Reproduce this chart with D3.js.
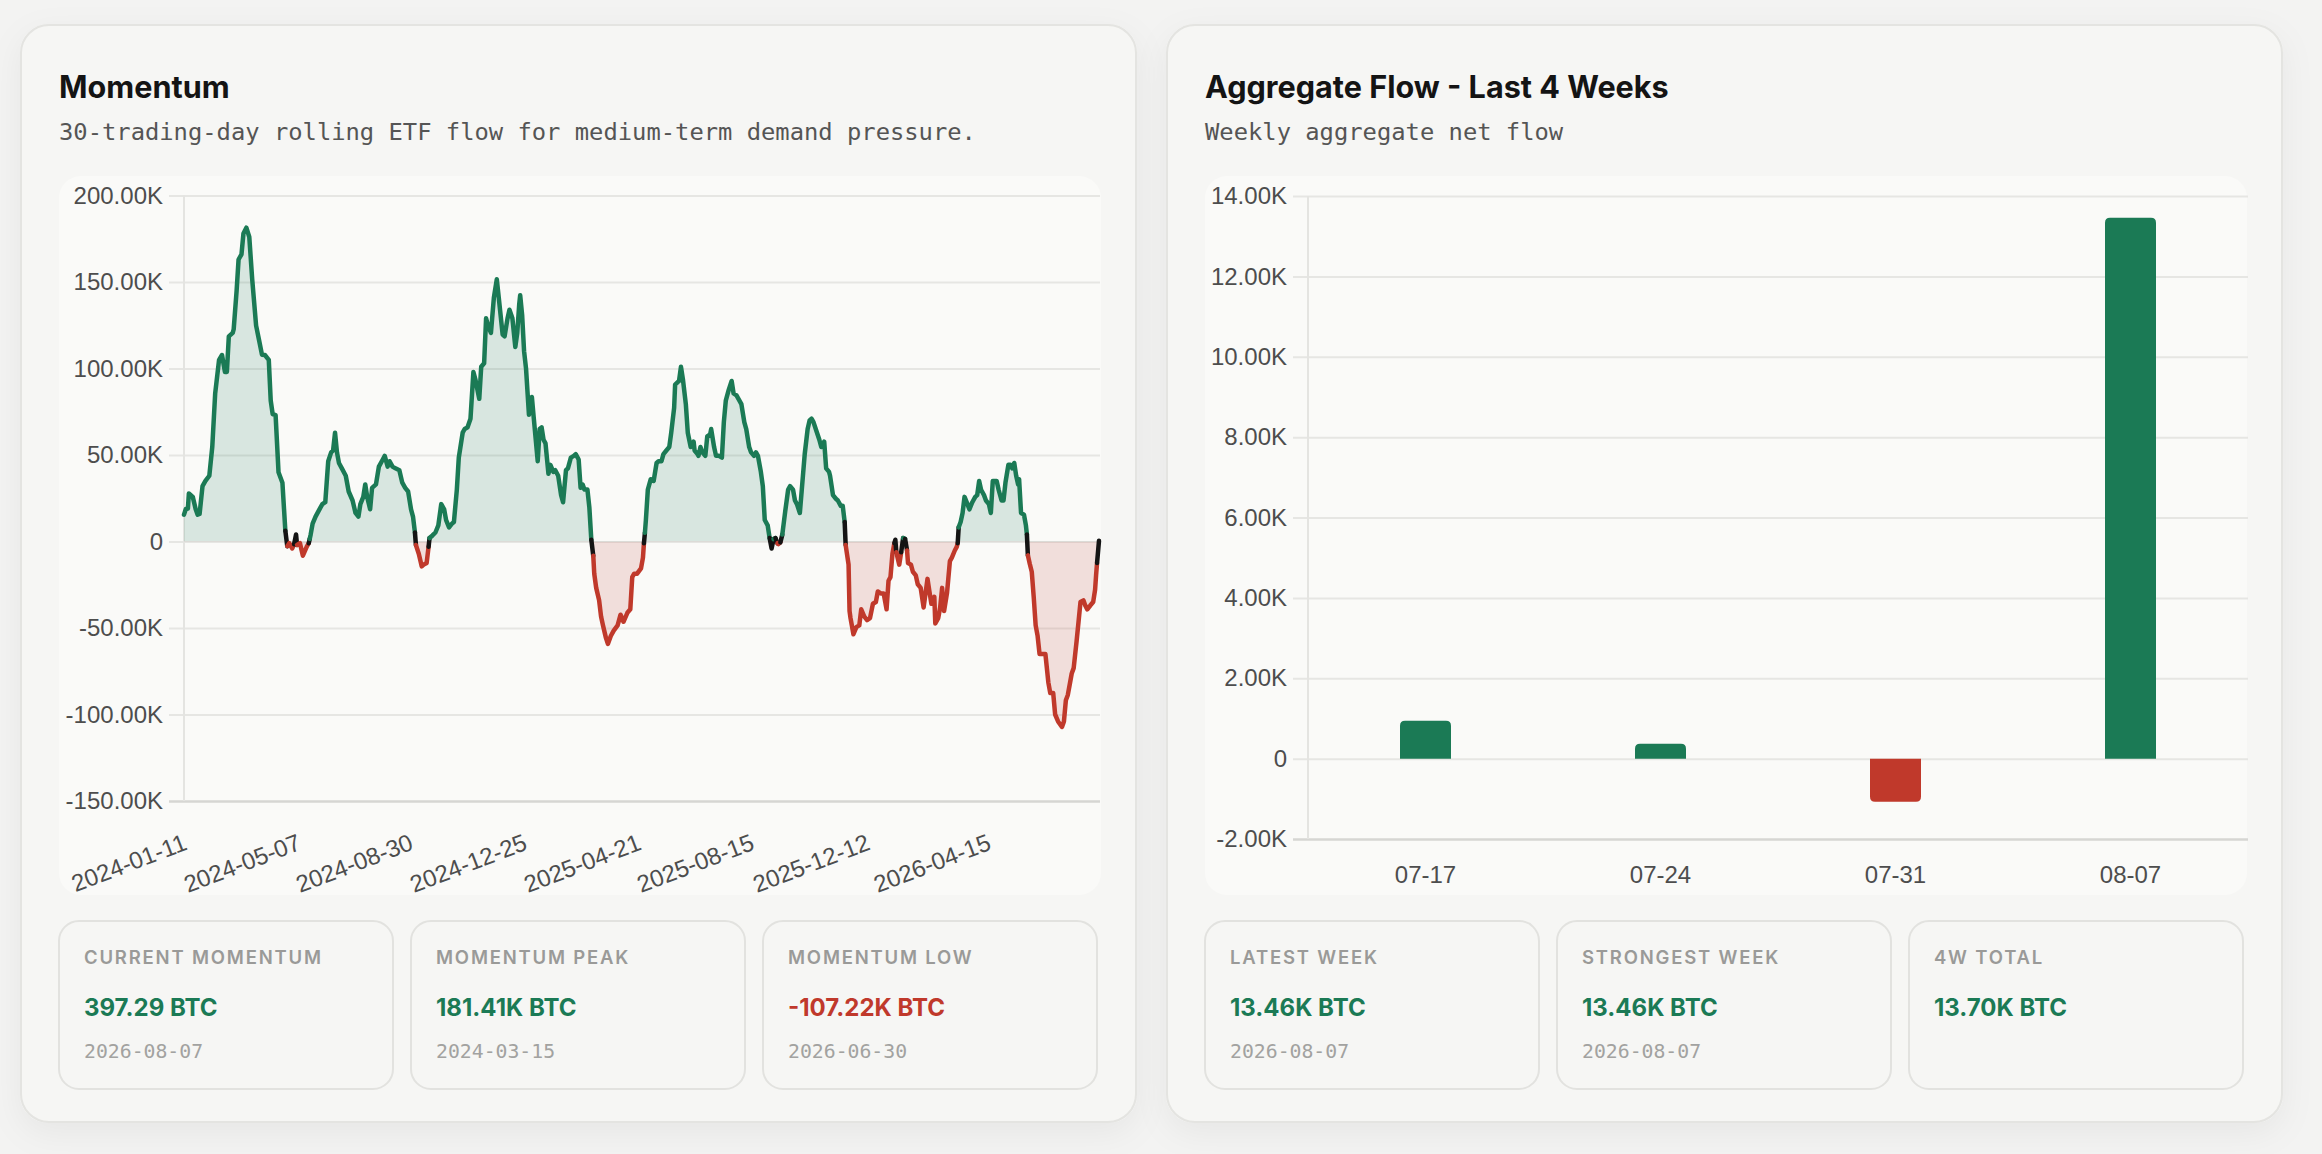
<!DOCTYPE html>
<html>
<head>
<meta charset="utf-8">
<title>ETF Flow Momentum</title>
<script src="https://cdn.jsdelivr.net/npm/d3@7"></script>
<style>
  html, body { margin: 0; padding: 0; background: #f3f3f2; }
  svg { display: block; }
</style>
</head>
<body>
<div id="main"></div>
<script>
// rolling 30 trading day flow, thousand BTC
const momentumDates = [
  "2024-01-11","2024-01-13","2024-01-15","2024-01-16","2024-01-20","2024-01-23","2024-01-25","2024-01-27","2024-01-30","2024-02-02",
  "2024-02-06","2024-02-09","2024-02-12","2024-02-16","2024-02-19","2024-02-22","2024-02-24","2024-02-26","2024-03-01","2024-03-02",
  "2024-03-05","2024-03-07","2024-03-10","2024-03-12","2024-03-15","2024-03-18","2024-03-21","2024-03-25","2024-03-28","2024-03-31",
  "2024-04-03","2024-04-07","2024-04-09","2024-04-11","2024-04-14","2024-04-17","2024-04-21","2024-04-24","2024-04-26","2024-04-28",
  "2024-05-01","2024-05-03","2024-05-05","2024-05-06","2024-05-09","2024-05-12","2024-05-16","2024-05-18","2024-05-19","2024-05-20",
  "2024-05-22","2024-05-25","2024-05-29","2024-06-01","2024-06-04","2024-06-07","2024-06-10","2024-06-12","2024-06-14","2024-06-16",
  "2024-06-18","2024-06-21","2024-06-25","2024-06-28","2024-07-02","2024-07-05","2024-07-08","2024-07-10","2024-07-13","2024-07-15",
  "2024-07-17","2024-07-20","2024-07-22","2024-07-26","2024-07-29","2024-08-02","2024-08-04","2024-08-07","2024-08-09","2024-08-12",
  "2024-08-15","2024-08-19","2024-08-22","2024-08-25","2024-08-28","2024-08-31","2024-09-02","2024-09-04","2024-09-05","2024-09-08",
  "2024-09-11","2024-09-13","2024-09-16","2024-09-18","2024-09-19","2024-09-22","2024-09-25","2024-09-28","2024-10-01","2024-10-04",
  "2024-10-06","2024-10-09","2024-10-12","2024-10-14","2024-10-17","2024-10-19","2024-10-23","2024-10-25","2024-10-28","2024-10-31",
  "2024-11-03","2024-11-05","2024-11-09","2024-11-11","2024-11-14","2024-11-16","2024-11-18","2024-11-21","2024-11-24","2024-11-27",
  "2024-11-29","2024-12-03","2024-12-05","2024-12-08","2024-12-10","2024-12-13","2024-12-16","2024-12-18","2024-12-20","2024-12-21",
  "2024-12-23","2024-12-25","2024-12-27","2024-12-30","2025-01-02","2025-01-04","2025-01-08","2025-01-10","2025-01-12","2025-01-14",
  "2025-01-16","2025-01-19","2025-01-21","2025-01-24","2025-01-26","2025-01-29","2025-02-01","2025-02-03","2025-02-06","2025-02-08",
  "2025-02-11","2025-02-14","2025-02-16","2025-02-19","2025-02-21","2025-02-23","2025-02-25","2025-02-28","2025-03-02","2025-03-04",
  "2025-03-06","2025-03-07","2025-03-09","2025-03-12","2025-03-14","2025-03-16","2025-03-19","2025-03-21","2025-03-24","2025-03-27",
  "2025-03-31","2025-04-03","2025-04-06","2025-04-10","2025-04-13","2025-04-15","2025-04-17","2025-04-20","2025-04-24","2025-04-26",
  "2025-04-27","2025-04-28","2025-04-29","2025-05-01","2025-05-04","2025-05-07","2025-05-10","2025-05-12","2025-05-15","2025-05-17",
  "2025-05-20","2025-05-23","2025-05-25","2025-05-28","2025-05-29","2025-06-02","2025-06-04","2025-06-06","2025-06-09","2025-06-11",
  "2025-06-14","2025-06-17","2025-06-18","2025-06-21","2025-06-22","2025-06-24","2025-06-26","2025-06-29","2025-07-01","2025-07-04",
  "2025-07-05","2025-07-08","2025-07-10","2025-07-13","2025-07-16","2025-07-18","2025-07-20","2025-07-23","2025-07-26","2025-07-28",
  "2025-07-31","2025-08-02","2025-08-05","2025-08-08","2025-08-10","2025-08-13","2025-08-15","2025-08-18","2025-08-20","2025-08-22",
  "2025-08-25","2025-08-27","2025-08-29","2025-09-01","2025-09-03","2025-09-05","2025-09-07","2025-09-09","2025-09-11","2025-09-12",
  "2025-09-14","2025-09-16","2025-09-19","2025-09-22","2025-09-24","2025-09-27","2025-09-29","2025-10-01","2025-10-04","2025-10-06",
  "2025-10-09","2025-10-12","2025-10-14","2025-10-16","2025-10-18","2025-10-21","2025-10-24","2025-10-26","2025-10-29","2025-10-31",
  "2025-11-03","2025-11-04","2025-11-07","2025-11-10","2025-11-12","2025-11-15","2025-11-17","2025-11-19","2025-11-20","2025-11-23",
  "2025-11-24","2025-11-25","2025-11-28","2025-12-01","2025-12-04","2025-12-06","2025-12-09","2025-12-12","2025-12-15","2025-12-18",
  "2025-12-21","2025-12-23","2025-12-26","2025-12-29","2026-01-01","2026-01-03","2026-01-05","2026-01-07","2026-01-09","2026-01-10",
  "2026-01-11","2026-01-14","2026-01-16","2026-01-18","2026-01-20","2026-01-22","2026-01-23","2026-01-26","2026-01-28","2026-01-31",
  "2026-02-02","2026-02-05","2026-02-08","2026-02-10","2026-02-12","2026-02-14","2026-02-16","2026-02-19","2026-02-20","2026-02-23",
  "2026-02-25","2026-02-27","2026-03-01","2026-03-04","2026-03-07","2026-03-09","2026-03-12","2026-03-14","2026-03-15","2026-03-16",
  "2026-03-18","2026-03-20","2026-03-22","2026-03-25","2026-03-27","2026-03-30","2026-04-02","2026-04-04","2026-04-06","2026-04-08",
  "2026-04-11","2026-04-13","2026-04-16","2026-04-18","2026-04-20","2026-04-24","2026-04-26","2026-04-29","2026-05-01","2026-05-03",
  "2026-05-06","2026-05-08","2026-05-10","2026-05-12","2026-05-14","2026-05-16","2026-05-17","2026-05-19","2026-05-22","2026-05-24",
  "2026-05-25","2026-05-26","2026-05-28","2026-05-30","2026-06-01","2026-06-03","2026-06-05","2026-06-07","2026-06-10","2026-06-13",
  "2026-06-16","2026-06-18","2026-06-21","2026-06-23","2026-06-26","2026-06-30","2026-07-02","2026-07-04","2026-07-06","2026-07-08",
  "2026-07-10","2026-07-12","2026-07-15","2026-07-17","2026-07-19","2026-07-22","2026-07-24","2026-07-26","2026-07-29","2026-08-01",
  "2026-08-03","2026-08-04","2026-08-05","2026-08-07"
];
const momentumValues = [
  15.5, 19, 19, 27.8, 25.8, 18.6, 15.5, 15.9, 32, 35,
  38, 54.6, 85.6, 105, 107.8, 98, 98, 118.6, 120.6, 122.7,
  145, 163, 166, 178, 181.41, 176, 151.5, 124.8, 116.5, 108,
  107.8, 105, 81.4, 73.6, 73, 40, 34, 6.2, -2.7, -1.0,
  -4, -1.6, 4.1, -2, -1, -8.2, -3, -1, 1.5, 4.1,
  10.3, 14.4, 18.6, 21.6, 22.7, 46.4, 51.5, 52.6, 62.9, 51.5,
  45.4, 42.3, 38, 28.9, 23.7, 16.5, 14.4, 21.6, 25.8, 33,
  25.8, 18.6, 31, 33, 43.3, 47.4, 49.5, 43.3, 46.4, 43.3,
  42.3, 41.2, 34, 31, 28.9, 18.6, 14.4, 5.2, -2, -7.2,
  -14.4, -13.4, -12.4, -3, 2, 3.5, 5.2, 9.3, 21.6, 18.6,
  12.4, 8.2, 10.3, 11.3, 30, 48.5, 62.9, 65, 66, 71,
  98, 93.8, 82.5, 101, 103, 129, 124.8, 120.6, 141, 151.6,
  141, 119.6, 118.6, 128.9, 134, 129, 112.4, 120.6, 137, 142.3,
  131, 110, 100, 73.2, 83.5, 71, 46.4, 65, 66, 58.8,
  56.7, 39.2, 44.3, 40.2, 41.2, 38, 26.8, 22.7, 41.2, 42.3,
  48.5, 49.5, 50.5, 47.4, 31, 33, 30, 30, 19.6, 1,
  -8.2, -18.6, -26.8, -34, -43.3, -48.5, -55.7, -59.2, -54.6, -51.5,
  -48.5, -42.3, -46.4, -41.2, -39.2, -20.6, -18.6, -18.6, -15.5, -9.3,
  -1, 5, 12.4, 30, 36, 35, 45.4, 46.4, 46.4, 50.5,
  52.6, 54.6, 62.9, 77.3, 90.7, 92.8, 101, 93.8, 79.4, 62.9,
  54.6, 57.7, 52.6, 50.5, 49.5, 54.6, 51.5, 49.5, 60.8, 62,
  65, 54.6, 49.5, 49.5, 48.5, 69, 81.4, 87.6, 92.8, 85.6,
  84.5, 82.5, 79.4, 69, 65, 54.6, 51.5, 49.5, 51.5, 49.5,
  40.2, 32, 12.4, 9.3, 2, -4, 1.4, 2, -1, -1.5,
  -0.5, 4, 17.5, 30, 32, 30, 23.7, 21.6, 16.5, 30,
  50.5, 65, 70, 71, 69, 63.9, 58.8, 54.6, 57.7, 42.3,
  40.2, 38, 26.8, 24.7, 23.7, 20.6, 20.6, 11.3, -2, -13.4,
  -40.2, -44.3, -53.6, -49.5, -48.5, -39.2, -43.3, -45.4, -44.3, -36,
  -35, -28.9, -30, -30, -39.2, -22.7, -20.6, -7.2, -1, 1,
  -6.2, -13.4, -6.2, 2, 1.5, -5.2, -12.4, -13.4, -17.5, -19.6,
  -24.7, -26.8, -38.1, -29.9, -21.6, -28.9, -36, -32, -47.4, -44.3,
  -38.1, -26.8, -40.2, -29.9, -11.3, -9.3, -5.2, -3.1, -1, 8.2,
  11.3, 16.5, 25.8, 21.6, 18.6, 22.7, 25.8, 26.8, 35, 29.9,
  26.8, 23.7, 21.6, 16.5, 35, 35, 29.9, 23.7, 23.7, 34,
  44.3, 44.3, 42.3, 45.4, 38, 33, 36, 16.5, 15.5, 9.3,
  4.1, -8, -13, -17.5, -32, -48.5, -54.6, -65, -65, -65,
  -81.4, -87.6, -87.6, -100, -104, -107.22, -104, -91.8, -88.7, -82.5,
  -76.3, -73.2, -57.7, -46.4, -35, -34, -37.1, -39.2, -37, -35,
  -27.8, -19.6, -12.4, 0.39729
];
const momentumXTicks = ["2024-01-11","2024-05-07","2024-08-30","2024-12-25","2025-04-21","2025-08-15","2025-12-12","2026-04-15"];
const momentumYTicks = [200000, 150000, 100000, 50000, 0, -50000, -100000, -150000];

// weekly aggregate net flow, BTC
const weekDates = ["2026-07-17","2026-07-24","2026-07-31","2026-08-07"];
const weekValues = [940, 370, -1070, 13460];
const weekYTicks = [14000, 12000, 10000, 8000, 6000, 4000, 2000, 0, -2000];

const GREEN = "#1b7a55";
const RED = "#c0392b";
const CROSS = "#141414";

const W = 2322, H = 1154;
const parseDate = d3.timeParse("%Y-%m-%d");
const fmtDate = d3.timeFormat("%Y-%m-%d");

const svg = d3.select("#main").append("svg")
  .attr("width", W)
  .attr("height", H)
  .attr("viewBox", `0 0 ${W} ${H}`);

const defs = svg.append("defs");
defs.append("filter").attr("id", "shadow")
  .attr("x", "-10%").attr("y", "-10%").attr("width", "120%").attr("height", "125%")
  .append("feDropShadow")
  .attr("dx", 0).attr("dy", 10).attr("stdDeviation", 16)
  .attr("flood-color", "#000").attr("flood-opacity", 0.05);

function fmtK(v) {
  if (v === 0) return "0";
  return (v / 1000).toFixed(2) + "K";
}
function fmtBTC(v) {
  return (Math.abs(v) >= 1000 ? fmtK(v) : v.toFixed(2)) + " BTC";
}

function drawCard(x, title, subtitle) {
  const g = svg.append("g");
  g.append("rect")
    .attr("x", x).attr("y", 25).attr("width", 1115).attr("height", 1097)
    .attr("rx", 28)
    .attr("fill", "#f6f6f4")
    .attr("stroke", "#e4e4e1").attr("stroke-width", 2)
    .attr("filter", "url(#shadow)");
  g.append("text")
    .attr("x", x + 38).attr("y", 98)
    .attr("font-family", "Inter, 'Noto Sans', sans-serif")
    .attr("font-weight", 700).attr("font-size", 30.6)
    .attr("fill", "#141414")
    .text(title);
  g.append("text")
    .attr("x", x + 38).attr("y", 140)
    .attr("font-family", "'DejaVu Sans Mono', monospace")
    .attr("font-size", 23.8)
    .attr("fill", "#555")
    .text(subtitle);
  // inner chart panel
  g.append("rect")
    .attr("x", x + 38).attr("y", 176).attr("width", 1042).attr("height", 719)
    .attr("rx", 22).attr("fill", "#fafaf8");
  return g;
}

function drawStats(x0, stats) {
  const g = svg.append("g");
  stats.forEach((s, i) => {
    const x = x0 + i * 352;
    g.append("rect")
      .attr("x", x).attr("y", 921).attr("width", 334).attr("height", 168)
      .attr("rx", 20)
      .attr("fill", "#f6f6f4")
      .attr("stroke", "#e2e2df").attr("stroke-width", 2);
    g.append("text")
      .attr("x", x + 25).attr("y", 964)
      .attr("font-family", "Inter, sans-serif")
      .attr("font-weight", 600).attr("font-size", 18.5)
      .attr("letter-spacing", 1.8)
      .attr("fill", "#9a9a98")
      .text(s.label);
    g.append("text")
      .attr("x", x + 25).attr("y", 1016)
      .attr("font-family", "Inter, sans-serif")
      .attr("font-weight", 700).attr("font-size", 24)
      .attr("fill", s.value < 0 ? RED : GREEN)
      .text(fmtBTC(s.value));
    if (s.date) {
      g.append("text")
        .attr("x", x + 25).attr("y", 1058)
        .attr("font-family", "'DejaVu Sans Mono', monospace")
        .attr("font-size", 19.8)
        .attr("fill", "#a2a2a0")
        .text(s.date);
    }
  });
}

function styleAxis(g) {
  g.select(".domain").remove();
  g.selectAll(".tick line").attr("stroke", "#e6e6e3").attr("stroke-width", 2);
  g.selectAll(".tick text")
    .attr("font-family", "'Liberation Sans', Arial, sans-serif")
    .attr("font-size", 24)
    .attr("fill", "#4d4d4d");
}

// ---------- Momentum ----------
function drawMomentum() {
  const left = 184, right = 1100, top = 195.5, bottom = 801;
  const data = momentumDates.map((d, i) => ({ date: parseDate(d), value: momentumValues[i] * 1000 }));

  const x = d3.scaleTime()
    .domain(d3.extent(data, d => d.date))
    .range([left, right - 1]);
  const y = d3.scaleLinear()
    .domain([-150000, 200000])
    .range([bottom, top]);

  const yAxis = svg.append("g")
    .attr("transform", `translate(${right},0)`)
    .call(d3.axisLeft(y).tickValues(momentumYTicks).tickSize(right - left + 15).tickPadding(6).tickFormat(fmtK))
    .call(styleAxis);
  yAxis.selectAll(".tick")
    .filter(d => d === -150000)
    .select("line").attr("stroke", "#d6d6d3").attr("stroke-width", 2.5);

  svg.append("line")
    .attr("x1", left).attr("x2", left)
    .attr("y1", top).attr("y2", bottom)
    .attr("stroke", "#e4e4e1").attr("stroke-width", 2);

  const xAxis = svg.append("g")
    .attr("transform", `translate(0,${bottom})`)
    .call(d3.axisBottom(x).tickValues(momentumXTicks.map(parseDate)).tickSize(0).tickFormat(fmtDate))
    .call(styleAxis);
  xAxis.selectAll(".tick text")
    .attr("y", 0).attr("dy", 0)
    .attr("text-anchor", "end")
    .attr("transform", "translate(4,48) rotate(-21)");

  const zero = y(0);
  const clipUp = defs.append("clipPath").attr("id", "clip-up");
  clipUp.append("rect").attr("x", left).attr("y", top - 10).attr("width", right - left).attr("height", zero - top + 10);
  const clipDown = defs.append("clipPath").attr("id", "clip-down");
  clipDown.append("rect").attr("x", left).attr("y", zero).attr("width", right - left).attr("height", bottom - zero);

  const area = d3.area()
    .x(d => x(d.date))
    .y0(zero)
    .y1(d => y(d.value));

  svg.append("path").datum(data)
    .attr("d", area)
    .attr("fill", GREEN).attr("fill-opacity", 0.15)
    .attr("clip-path", "url(#clip-up)");
  svg.append("path").datum(data)
    .attr("d", area)
    .attr("fill", RED).attr("fill-opacity", 0.14)
    .attr("clip-path", "url(#clip-down)");

  // split the line in runs: green above zero, red below, dark where it crosses
  const runs = [];
  for (let i = 0; i < data.length - 1; i++) {
    const a = data[i].value, b = data[i + 1].value;
    let c = CROSS;
    if (a >= 0 && b >= 0) c = GREEN;
    else if (a <= 0 && b <= 0) c = RED;
    const last = runs[runs.length - 1];
    if (last && last.color === c) last.points.push(data[i + 1]);
    else runs.push({ color: c, points: [data[i], data[i + 1]] });
  }
  const line = d3.line().x(d => x(d.date)).y(d => y(d.value));
  svg.append("g")
    .selectAll("path")
    .data(runs)
    .join("path")
    .attr("d", d => line(d.points))
    .attr("fill", "none")
    .attr("stroke", d => d.color)
    .attr("stroke-width", 4.5)
    .attr("stroke-linejoin", "round")
    .attr("stroke-linecap", "round");

  const cur = data[data.length - 1];
  const peak = data.reduce((m, d) => d.value > m.value ? d : m);
  const low = data.reduce((m, d) => d.value < m.value ? d : m);
  drawStats(59, [
    { label: "CURRENT MOMENTUM", value: cur.value, date: fmtDate(cur.date) },
    { label: "MOMENTUM PEAK", value: peak.value, date: fmtDate(peak.date) },
    { label: "MOMENTUM LOW", value: low.value, date: fmtDate(low.date) }
  ]);
}

// ---------- Weekly aggregate ----------
function barPath(x0, w, yZero, yEnd, r) {
  if (yEnd < yZero) {
    return `M${x0},${yZero}V${yEnd + r}Q${x0},${yEnd} ${x0 + r},${yEnd}H${x0 + w - r}Q${x0 + w},${yEnd} ${x0 + w},${yEnd + r}V${yZero}Z`;
  }
  return `M${x0},${yZero}V${yEnd - r}Q${x0},${yEnd} ${x0 + r},${yEnd}H${x0 + w - r}Q${x0 + w},${yEnd} ${x0 + w},${yEnd - r}V${yZero}Z`;
}

function drawWeekly() {
  const left = 1308, right = 2248, top = 196, bottom = 839;
  const data = weekDates.map((d, i) => ({ date: d, label: d.slice(5), value: weekValues[i] }));

  const x = d3.scaleBand()
    .domain(data.map(d => d.label))
    .range([left, right])
    .paddingInner(0.783)
    .paddingOuter(0.3915);
  const y = d3.scaleLinear()
    .domain([-2000, 14000])
    .range([bottom, top]);

  const yAxis = svg.append("g")
    .attr("transform", `translate(${right},0)`)
    .call(d3.axisLeft(y).tickValues(weekYTicks).tickSize(right - left + 15).tickPadding(6).tickFormat(fmtK))
    .call(styleAxis);
  yAxis.selectAll(".tick")
    .filter(d => d === -2000)
    .select("line").attr("stroke", "#d6d6d3").attr("stroke-width", 2.5);

  svg.append("line")
    .attr("x1", left).attr("x2", left)
    .attr("y1", top).attr("y2", bottom)
    .attr("stroke", "#e4e4e1").attr("stroke-width", 2);

  svg.append("g")
    .attr("transform", `translate(0,${bottom})`)
    .call(d3.axisBottom(x).tickSize(0).tickPadding(27))
    .call(styleAxis);

  svg.append("g")
    .selectAll("path")
    .data(data)
    .join("path")
    .attr("d", d => barPath(x(d.label), x.bandwidth(), y(0), y(d.value), 5))
    .attr("fill", d => d.value < 0 ? RED : GREEN);

  const latest = data[data.length - 1];
  const strongest = data.reduce((m, d) => d.value > m.value ? d : m);
  drawStats(1205, [
    { label: "LATEST WEEK", value: latest.value, date: latest.date },
    { label: "STRONGEST WEEK", value: strongest.value, date: strongest.date },
    { label: "4W TOTAL", value: d3.sum(data, d => d.value) }
  ]);
}

drawCard(21, "Momentum", "30-trading-day rolling ETF flow for medium-term demand pressure.");
drawCard(1167, "Aggregate Flow - Last 4 Weeks", "Weekly aggregate net flow");
drawMomentum();
drawWeekly();
</script>
</body>
</html>
